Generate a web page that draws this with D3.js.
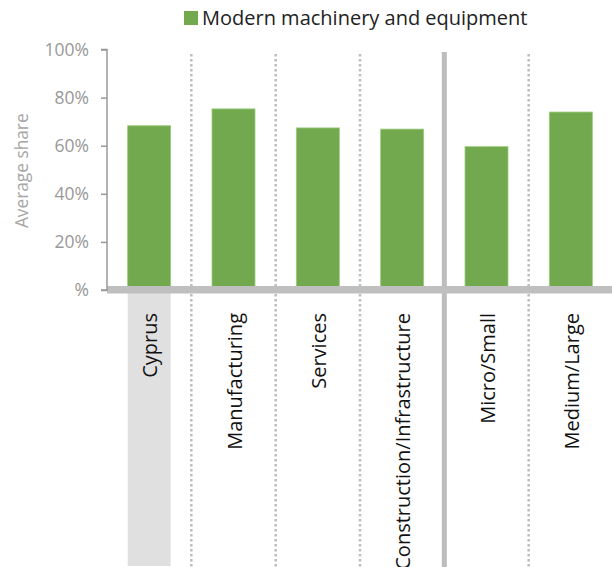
<!DOCTYPE html>
<html><head><meta charset="utf-8">
<script src="https://cdn.jsdelivr.net/npm/d3@7"></script>
<style>html,body{margin:0;padding:0;background:#fff;}svg{display:block;}</style>
</head><body>
<svg id="chart" width="612" height="567"></svg>
<script>
const categories = ["Cyprus", "Manufacturing", "Services", "Construction/Infrastructure", "Micro/Small", "Medium/Large"];
const values = [0.683, 0.753, 0.674, 0.669, 0.596, 0.740];
const seriesName = "Modern machinery and equipment";
const yTicks = [0, 0.2, 0.4, 0.6, 0.8, 1.0];
const yTickLabels = ["%", "20%", "40%", "60%", "80%", "100%"];
const solidSeparatorAfter = ["Construction/Infrastructure"];

const FONT = "'Open Sans', 'Noto Sans', sans-serif";
const svg = d3.select("#chart");
const W = 612, H = 567;
const left = 107, right = 613, y0 = 290, y1 = 49.5;

const x = d3.scaleBand().domain(categories).range([left, right]).paddingInner(0.49).paddingOuter(0.245);
const y = d3.scaleLinear().domain([0, 1]).range([y0, y1]);
const step = x.step();

// Cyprus highlight
svg.append("rect").attr("x", x("Cyprus")).attr("y", 293).attr("width", x.bandwidth()).attr("height", 566 - 293).attr("fill", "#e0e0e0");

// separators
categories.slice(0, -1).forEach((c) => {
  const bx = x(c) + x.bandwidth() + (step - x.bandwidth()) / 2;
  const solid = solidSeparatorAfter.includes(c);
  svg.append("line").attr("x1", bx).attr("x2", bx).attr("y1", solid ? 52 : 54).attr("y2", H)
    .attr("stroke", "#bdbdbd")
    .attr("stroke-width", solid ? 5 : 2.5)
    .attr("stroke-dasharray", solid ? null : "2.5,2.5");
});

// bars
svg.selectAll("rect.bar").data(categories).enter().append("rect").attr("class", "bar")
  .attr("x", d => x(d)).attr("width", x.bandwidth())
  .attr("y", (d, i) => y(values[i])).attr("height", (d, i) => y0 - y(values[i]))
  .attr("fill", "#72a94f").attr("stroke", "#9ccc7d").attr("stroke-width", 0.8);

// baseline
svg.append("rect").attr("x", left).attr("y", 286).attr("width", W - left).attr("height", 7.5).attr("fill", "#bfbfbf");

// y axis
const yAxis = d3.axisLeft(y).tickValues(yTicks).tickFormat((d, i) => yTickLabels[i]).tickSize(6).tickPadding(12);
const ga = svg.append("g").attr("transform", `translate(${left},0)`).call(yAxis);
ga.select(".domain").attr("stroke", "#999").attr("stroke-width", 1.5).attr("d", `M-6,${y1}H0V${y0}H-6`);
ga.selectAll(".tick line").attr("stroke", "#999").attr("stroke-width", 1.5);
ga.selectAll(".tick text").attr("fill", "#999").style("font-family", FONT).style("font-size", "17.5px");

// y title
svg.append("text").attr("transform", `translate(28,${(y0 + y1) / 2 + 1}) rotate(-90)`)
  .attr("text-anchor", "middle").attr("fill", "#a6a6a6").style("font-family", FONT).style("font-size", "17.3px")
  .text("Average share");

// category labels
svg.selectAll("text.cat").data(categories).enter().append("text").attr("class", "cat")
  .attr("transform", d => `translate(${x(d) + x.bandwidth() / 2 + 8},313) rotate(-90)`)
  .attr("text-anchor", "end").attr("fill", "#111").style("font-family", FONT).style("font-size", "20px")
  .text(d => d);

// legend
const lg = svg.append("g").attr("transform", "translate(184,11)");
lg.append("rect").attr("width", 14).attr("height", 14).attr("fill", "#72a94f");
lg.append("text").attr("x", 18).attr("y", 14).attr("fill", "#222").style("font-family", FONT).style("font-size", "20px").text(seriesName);
</script>
</body></html>
